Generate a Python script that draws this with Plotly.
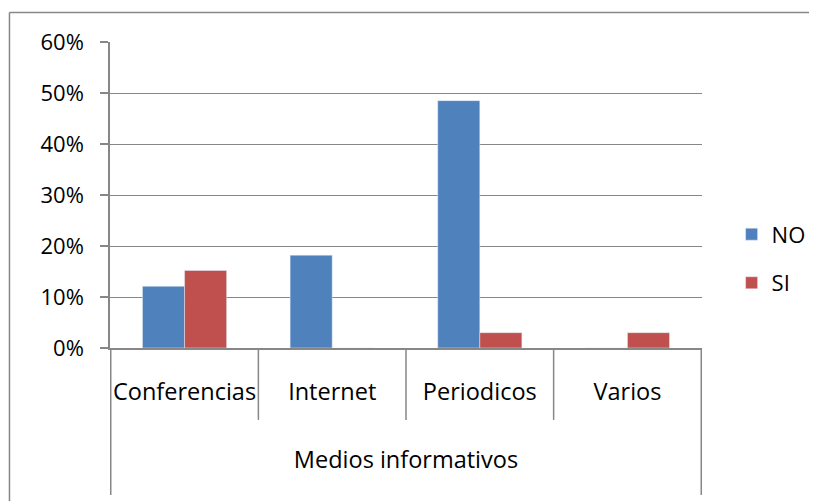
import plotly.graph_objects as go

categories = ["Conferencias", "Internet", "Periodicos", "Varios"]
group_label = "Medios informativos"
no_values = [0.121, 0.182, 0.485, 0.0]
si_values = [0.152, 0.0, 0.030, 0.030]

FONT = "Open Sans"
GRAY = "#878787"

fig = go.Figure()
fig.add_trace(go.Bar(x=categories, y=no_values, name="NO", marker_color="#4F81BD",
                     legendgroup="no"))
fig.add_trace(go.Bar(x=categories, y=si_values, name="SI", marker_color="#C0504D",
                     legendgroup="si"))

# category dividers below the axis (multi-level axis look)
for i in range(len(categories) + 1):
    outer = i in (0, len(categories))
    fig.add_shape(type="line", xref="x", yref="paper",
                  x0=i - 0.5, x1=i - 0.5, y0=0, y1=-0.48 if outer else -0.235,
                  line=dict(color=GRAY, width=1.5))

# chart outer border (cropped at right and bottom)
fig.add_shape(type="line", xref="paper", yref="paper", x0=-0.1698, x1=1.3,
              y0=1.0964, y1=1.0964, line=dict(color=GRAY, width=1.5))
fig.add_shape(type="line", xref="paper", yref="paper", x0=-0.1698, x1=-0.1698,
              y0=1.0964, y1=-0.6, line=dict(color=GRAY, width=1.5))

# page body has an 8px margin, so the figure is smaller than the window
fig.update_layout(
    width=809, height=493,
    margin=dict(l=102, r=115, t=34, b=153, autoexpand=False),
    plot_bgcolor="white", paper_bgcolor="white",
    font=dict(family=FONT, size=23.5, color="black"),
    barmode="group", bargap=0.43, bargroupgap=0,
    showlegend=True,
    legend=dict(x=1.05, y=0.44, xanchor="left", yanchor="top",
                tracegroupgap=17, font=dict(size=22)),
)
fig.update_yaxes(range=[0, 0.6], dtick=0.1, tickformat=".0%",
                 tickfont=dict(size=22), ticklabelstandoff=12,
                 showgrid=True, gridcolor=GRAY, gridwidth=1,
                 showline=True, linecolor=GRAY, linewidth=1.5,
                 ticks="outside", ticklen=8, tickcolor=GRAY, tickwidth=1.5,
                 zeroline=False)
fig.update_xaxes(showline=True, linecolor=GRAY, linewidth=1.5,
                 ticks="", ticklabelstandoff=22,
                 title=dict(text=group_label, standoff=46, font=dict(size=23.5)))
fig.write_html("out.html")
